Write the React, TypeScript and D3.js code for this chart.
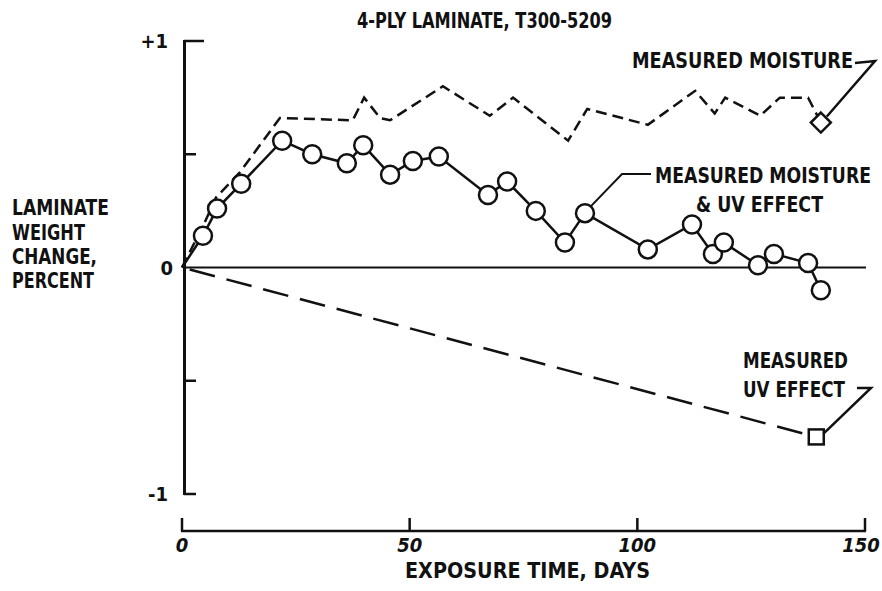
import React from 'react';
import * as d3 from 'd3';

// exposure days / weight change (percent)
const comboDays = [0, 4.6, 7.7, 13.0, 22.0, 28.6, 36.2, 39.8, 45.7, 50.7, 56.4, 67.2, 71.4, 77.7, 84.1, 88.5, 102.3, 112.0, 116.6, 119.0, 126.5, 130.0, 137.5, 140.3];
const comboValues = [0, 0.14, 0.26, 0.37, 0.56, 0.5, 0.46, 0.54, 0.41, 0.47, 0.49, 0.32, 0.38, 0.25, 0.11, 0.24, 0.08, 0.19, 0.06, 0.11, 0.01, 0.06, 0.02, -0.1];

const moistureDays = [0, 5, 7.5, 12.7, 21.5, 37.5, 40, 43.5, 45.7, 57.3, 67.6, 72.7, 84.8, 89, 102.3, 112.7, 117, 119.3, 127, 131.3, 137.5, 140.3];
const moistureValues = [0, 0.2, 0.31, 0.42, 0.66, 0.65, 0.75, 0.66, 0.65, 0.8, 0.67, 0.75, 0.56, 0.7, 0.63, 0.78, 0.68, 0.75, 0.67, 0.75, 0.75, 0.64];

const uvDays = [0, 139.3];
const uvValues = [0, -0.748];

const xTicks = [0, 50, 100, 150];
const yTicks = [-1, -0.5, 0, 0.5, 1];
const yTickLabels: Record<string, string> = { '1': '+1', '0': '0', '-1': '-1' };

const font = '"DejaVu Sans Condensed", "DejaVu Sans", sans-serif';
const squeeze = 0.85; // letters are narrow and tall in the original

function Label({ x, y, w, size = 21, children }: any) {
  return (
    <g transform={`translate(${x},${y}) scale(1,${1 / squeeze})`}>
      <text x={0} y={0} textLength={w} lengthAdjust="spacingAndGlyphs"
        fontFamily={font} fontWeight="bold" fontSize={size * squeeze} fill="#111">
        {children}
      </text>
    </g>
  );
}

export default function App() {
  const x = d3.scaleLinear().domain([0, 150]).range([182, 865]);
  const y = d3.scaleLinear().domain([-1, 1]).range([494, 41]);

  const line = d3.line<[number, number]>().x(d => x(d[0])).y(d => y(d[1]));
  const combo = comboDays.map((d, i) => [d, comboValues[i]] as [number, number]);
  const moisture = moistureDays.map((d, i) => [d, moistureValues[i]] as [number, number]);
  const uv = uvDays.map((d, i) => [d, uvValues[i]] as [number, number]);

  const mLast = moisture[moisture.length - 1];
  const uLast = uv[uv.length - 1];
  const dx = x(mLast[0]), dy = y(mLast[1]);
  const sx = x(uLast[0]), sy = y(uLast[1]);
  const xAxisY = 531;

  return (
    <div style={{ position: 'absolute', left: 0, top: 0 }}>
      <svg width={882} height={591} style={{ display: 'block', background: '#fff' }}>
        <Label x={357} y={28} w={255}>4-PLY LAMINATE, T300-5209</Label>

        {/* y axis */}
        <line x1={184.5} x2={184.5} y1={y(1) - 1} y2={y(-1) + 1} stroke="#111" strokeWidth={3} />
        {yTicks.map(t => (
          <line key={t} x1={184} x2={t === 1 ? 204 : 196} y1={y(t)} y2={y(t)} stroke="#111" strokeWidth={t === 0 ? 0 : 2.5} />
        ))}
        {yTicks.filter(t => yTickLabels[String(t)]).map(t => (
          <text key={t} x={t === 0 ? 173 : 168} y={y(t) + 7} textAnchor="end" fontFamily={font}
            fontWeight="bold" fontSize={20} fill="#111">{yTickLabels[String(t)]}</text>
        ))}
        <line x1={184} x2={866} y1={y(0)} y2={y(0)} stroke="#111" strokeWidth={2} />

        {/* x axis */}
        <line x1={x(0) - 1} x2={x(150) + 1} y1={xAxisY} y2={xAxisY} stroke="#111" strokeWidth={2.5} />
        {xTicks.map(t => (
          <line key={t} x1={x(t)} x2={x(t)} y1={xAxisY} y2={xAxisY - 13} stroke="#111" strokeWidth={2.5} />
        ))}
        {xTicks.map(t => (
          <text key={t} x={x(t) + (t === 150 ? -4 : 0)} y={552} textAnchor="middle" fontFamily={font}
            fontStyle="italic" fontWeight="bold" fontSize={20} fill="#111">{t}</text>
        ))}
        <Label x={405} y={578} w={245}>EXPOSURE TIME, DAYS</Label>

        {/* y label */}
        <Label x={12} y={215} w={97}>LAMINATE</Label>
        <Label x={12} y={240} w={73}>WEIGHT</Label>
        <Label x={12} y={264} w={85}>CHANGE,</Label>
        <Label x={12} y={288} w={82}>PERCENT</Label>

        {/* series */}
        <path d={line(uv) || ''} fill="none" stroke="#111" strokeWidth={2.5} strokeDasharray="26 12" strokeDashoffset={-8} />
        <path d={line(moisture) || ''} fill="none" stroke="#111" strokeWidth={2.5} strokeDasharray="11 6" />
        <path d={line(combo) || ''} fill="none" stroke="#111" strokeWidth={2.5} />
        {combo.slice(1).map((p, i) => (
          <circle key={i} cx={x(p[0])} cy={y(p[1])} r={9} fill="#fff" stroke="#111" strokeWidth={2.5} />
        ))}
        <path d={`M${dx},${dy - 10}L${dx + 10},${dy}L${dx},${dy + 10}L${dx - 10},${dy}Z`} fill="#fff" stroke="#111" strokeWidth={2.5} />
        <rect x={sx - 7.5} y={sy - 7.5} width={15} height={15} fill="#fff" stroke="#111" strokeWidth={2.5} />

        {/* annotations */}
        <Label x={632} y={68} w={221}>MEASURED MOISTURE</Label>
        <polyline points={`855,63 875,61 ${dx + 6},${dy - 6}`} fill="none" stroke="#111" strokeWidth={2.5} />

        <Label x={655} y={183} w={216} size={22}>MEASURED MOISTURE</Label>
        <Label x={696} y={212} w={127} size={22}>&amp; UV EFFECT</Label>
        <polyline points={`651,174 622,174 ${x(88.5) + 6},${y(0.24) - 7}`} fill="none" stroke="#111" strokeWidth={2} />

        <Label x={743} y={368} w={105} size={22}>MEASURED</Label>
        <Label x={743} y={397} w={102} size={22}>UV EFFECT</Label>
        <polyline points={`857,388 871,388 ${sx + 7},${sy - 3}`} fill="none" stroke="#111" strokeWidth={2.5} />
      </svg>
    </div>
  );
}
